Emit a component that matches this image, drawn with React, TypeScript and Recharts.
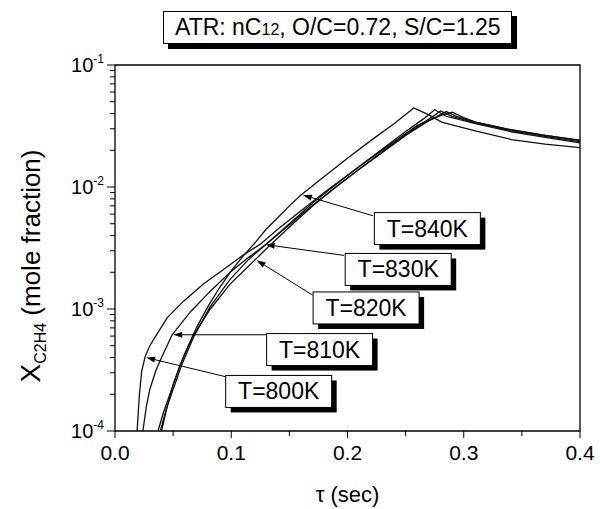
import React from "react";
import {
  LineChart,
  Line,
  XAxis,
  YAxis,
  ReferenceArea,
  ReferenceLine,
  ReferenceDot,
} from "recharts";

const FONT = "'Liberation Sans', Arial, sans-serif";

// residence time (s) and C2H4 mole fraction, one pair per temperature
const TAU_800 = [0.019, 0.021, 0.023, 0.026, 0.03, 0.035, 0.045, 0.059, 0.076, 0.093, 0.111, 0.125, 0.14, 0.16, 0.18, 0.2, 0.22, 0.24, 0.26, 0.28, 0.29, 0.3, 0.31, 0.34, 0.37, 0.4];
const X_800 = [1e-4, 2e-4, 3.1e-4, 4.1e-4, 5e-4, 6e-4, 8.5e-4, 1.16e-3, 1.6e-3, 2.1e-3, 2.8e-3, 3.4e-3, 4.5e-3, 6.4e-3, 9.0e-3, 1.25e-2, 1.72e-2, 2.35e-2, 3.2e-2, 3.85e-2, 4.1e-2, 3.7e-2, 3.4e-2, 2.95e-2, 2.65e-2, 2.42e-2];

const TAU_810 = [0.024, 0.027, 0.03, 0.035, 0.039, 0.049, 0.065, 0.082, 0.099, 0.115, 0.13, 0.15, 0.17, 0.19, 0.21, 0.23, 0.25, 0.27, 0.285, 0.295, 0.31, 0.34, 0.37, 0.4];
const X_810 = [1e-4, 1.6e-4, 2.2e-4, 3.1e-4, 3.8e-4, 6.1e-4, 9.5e-4, 1.4e-3, 2.0e-3, 2.65e-3, 3.4e-3, 4.9e-3, 7.1e-3, 1.0e-2, 1.4e-2, 1.92e-2, 2.65e-2, 3.5e-2, 4.15e-2, 3.75e-2, 3.4e-2, 2.95e-2, 2.65e-2, 2.4e-2];

const TAU_820 = [0.037, 0.042, 0.048, 0.056, 0.067, 0.082, 0.099, 0.115, 0.13, 0.15, 0.17, 0.19, 0.21, 0.23, 0.25, 0.27, 0.28, 0.29, 0.31, 0.34, 0.37, 0.4];
const X_820 = [1e-4, 1.45e-4, 2.1e-4, 3.5e-4, 6e-4, 1e-3, 1.6e-3, 2.25e-3, 3.1e-3, 4.7e-3, 7e-3, 1e-2, 1.4e-2, 1.95e-2, 2.7e-2, 3.6e-2, 4.2e-2, 3.8e-2, 3.35e-2, 2.9e-2, 2.6e-2, 2.35e-2];

const TAU_830 = [0.039, 0.044, 0.05, 0.058, 0.068, 0.082, 0.099, 0.115, 0.13, 0.15, 0.17, 0.19, 0.21, 0.23, 0.25, 0.265, 0.275, 0.285, 0.31, 0.34, 0.37, 0.4];
const X_830 = [1e-4, 1.5e-4, 2.2e-4, 3.6e-4, 6e-4, 1.05e-3, 1.75e-3, 2.55e-3, 3.4e-3, 5.0e-3, 7.4e-3, 1.05e-2, 1.47e-2, 2.05e-2, 2.85e-2, 3.6e-2, 4.3e-2, 3.8e-2, 3.3e-2, 2.85e-2, 2.55e-2, 2.3e-2];

const TAU_840 = [0.04, 0.045, 0.05, 0.06, 0.07, 0.08, 0.09, 0.1, 0.11, 0.12, 0.13, 0.14, 0.15, 0.16, 0.18, 0.2, 0.22, 0.24, 0.257, 0.27, 0.281, 0.309, 0.341, 0.37, 0.4];
const X_840 = [1e-4, 1.6e-4, 2.4e-4, 4.3e-4, 7e-4, 1.05e-3, 1.5e-3, 2.05e-3, 2.7e-3, 3.45e-3, 4.5e-3, 5.6e-3, 7e-3, 8.6e-3, 1.22e-2, 1.72e-2, 2.4e-2, 3.3e-2, 4.45e-2, 3.9e-2, 3.4e-2, 2.9e-2, 2.45e-2, 2.25e-2, 2.1e-2];

// labels, box centre and arrow (from box corner to curve) in data units
const LABELS = ["T=800K", "T=810K", "T=820K", "T=830K", "T=840K"];
const LABEL_TAU = [0.1408, 0.176, 0.216, 0.2436, 0.2687];
const LABEL_X = [2.11e-4, 4.65e-4, 1.02e-3, 2.11e-3, 4.56e-3];
const ARROW_FROM_TAU = [0.0976, 0.134, 0.17, 0.197, 0.222];
const ARROW_FROM_X = [2.75e-4, 6.15e-4, 1.3e-3, 2.75e-3, 5.81e-3];
const ARROW_TO_TAU = [0.0268, 0.0501, 0.1218, 0.1296, 0.1616];
const ARROW_TO_X = [4.0e-4, 6.15e-4, 2.51e-3, 3.37e-3, 8.6e-3];

const X_TICKS = [0, 0.05, 0.1, 0.15, 0.2, 0.25, 0.3, 0.35, 0.4];
const Y_MAJOR = [1e-4, 1e-3, 1e-2, 1e-1];
const Y_MINOR_MULT = [2, 3, 4, 5, 6, 7, 8, 9];

const SERIES = [
  {name: "800K", tau: TAU_800, x: X_800},
  {name: "810K", tau: TAU_810, x: X_810},
  {name: "820K", tau: TAU_820, x: X_820},
  {name: "830K", tau: TAU_830, x: X_830},
  {name: "840K", tau: TAU_840, x: X_840},
].map((s) => ({
  name: s.name,
  data: s.tau.map((t, i) => ({tau: t, x: s.x[i]})),
}));

const Y_TICKS = [
  ...Y_MAJOR,
  ...Y_MAJOR.slice(0, 3).flatMap((d) => Y_MINOR_MULT.map((m) => m * d)),
].sort((a, b) => a - b);

const isDecade = (v: number) =>
  Math.abs(Math.log10(v) - Math.round(Math.log10(v))) < 1e-6;
const isTenth = (v: number) => Math.abs(v * 10 - Math.round(v * 10)) < 1e-6;

function YTick({x, y, payload}: any) {
  const v = payload.value;
  const major = isDecade(v);
  return (
    <g>
      <line x1={x - (major ? 8 : 5)} x2={x} y1={y} y2={y} stroke="#000" />
      {major && (
        <text x={x - 11} y={y + 7} textAnchor="end" fontSize={20} fontFamily={FONT} fill="#000">
          10
          <tspan dy={-9} fontSize={12}>
            {String(Math.round(Math.log10(v)))}
          </tspan>
        </text>
      )}
    </g>
  );
}

function XTick({x, y, payload}: any) {
  const v = payload.value;
  const major = isTenth(v);
  return (
    <g>
      <line x1={x} x2={x} y1={y} y2={y + (major ? 7 : 5)} stroke="#000" />
      {major && (
        <text x={x} y={y + 29} textAnchor="middle" fontSize={21} fontFamily={FONT} fill="#000">
          {v.toFixed(1)}
        </text>
      )}
    </g>
  );
}

function TopTick({x, y, payload}: any) {
  const major = isTenth(payload.value);
  return <line x1={x} x2={x} y1={y} y2={y + (major ? 7 : 5)} stroke="#000" />;
}

function YTitle({viewBox}: any) {
  const cx = viewBox.x + 26;
  const cy = viewBox.y + viewBox.height / 2 + 18;
  return (
    <text
      x={cx}
      y={cy + 9}
      transform={`rotate(-90, ${cx}, ${cy})`}
      textAnchor="middle"
      fontFamily={FONT}
      fontSize={28}
      fill="#000">
      X
      <tspan dy={6} fontSize={16}>
        C2H4
      </tspan>
      <tspan dy={-6} fontSize={26}>
        {" (mole fraction)"}
      </tspan>
    </text>
  );
}

function XTitle({viewBox}: any) {
  return (
    <text
      x={viewBox.x + viewBox.width / 2}
      y={viewBox.y + 71}
      textAnchor="middle"
      fontFamily={FONT}
      fontSize={22}
      fill="#000">
      τ (sec)
    </text>
  );
}

function LabelBox({cx, cy, text}: {cx: number; cy: number; text: string}) {
  const w = 106;
  const h = 32;
  return (
    <g>
      <rect x={cx - w / 2 + 5} y={cy - h / 2 + 5} width={w} height={h} fill="#000" />
      <rect x={cx - w / 2} y={cy - h / 2} width={w} height={h} fill="#fff" stroke="#000" />
      <text x={cx} y={cy + 8} textAnchor="middle" fontFamily={FONT} fontSize={23} fill="#000">
        {text}
      </text>
    </g>
  );
}

function Arrow({x1, y1, x2, y2}: any) {
  const a = Math.atan2(y2 - y1, x2 - x1);
  const len = 9;
  const half = 3;
  const bx = x2 - len * Math.cos(a);
  const by = y2 - len * Math.sin(a);
  const px = -Math.sin(a) * half;
  const py = Math.cos(a) * half;
  return (
    <g>
      <line x1={x1} y1={y1} x2={bx} y2={by} stroke="#000" />
      <polygon
        points={`${x2},${y2} ${bx + px},${by + py} ${bx - px},${by - py}`}
        fill="#000"
      />
    </g>
  );
}

export default function App() {
  return (
    <div
      style={{
        position: "absolute",
        left: 0,
        top: 0,
        width: 600,
        height: 509,
        background: "#fff",
      }}>
      <LineChart width={600} height={509} margin={{top: 65, right: 20, bottom: 0, left: 5}}>
        <XAxis
          type="number"
          dataKey="tau"
          domain={[0, 0.4]}
          ticks={X_TICKS}
          interval={0}
          allowDataOverflow
          axisLine={false}
          tickLine={false}
          tickSize={0}
          tickMargin={0}
          height={78}
          tick={<XTick />}
          label={{content: (p: any) => <XTitle viewBox={p.viewBox} />}}
        />
        <XAxis
          xAxisId="top"
          orientation="top"
          type="number"
          dataKey="tau"
          domain={[0, 0.4]}
          ticks={X_TICKS}
          interval={0}
          allowDataOverflow
          axisLine={false}
          tickLine={false}
          tickSize={0}
          tickMargin={0}
          height={0}
          tick={<TopTick />}
        />
        <YAxis
          type="number"
          scale="log"
          domain={[1e-4, 1e-1]}
          ticks={Y_TICKS}
          interval={0}
          allowDataOverflow
          axisLine={false}
          tickLine={false}
          tickSize={0}
          tickMargin={0}
          width={110}
          tick={<YTick />}
          label={{content: (p: any) => <YTitle viewBox={p.viewBox} />}}
        />
        <ReferenceArea
          x1={0}
          x2={0.4}
          y1={1e-4}
          y2={1e-1}
          fill="none"
          stroke="#000"
          strokeWidth={1.3}
          ifOverflow="visible"
        />
        {SERIES.map((s) => (
          <Line
            key={s.name}
            data={s.data}
            dataKey="x"
            type="linear"
            stroke="#111"
            strokeWidth={1.3}
            dot={false}
            isAnimationActive={false}
          />
        ))}
        {LABELS.map((t, i) => (
          <ReferenceLine
            key={"a" + t}
            segment={[
              {x: ARROW_FROM_TAU[i], y: ARROW_FROM_X[i]},
              {x: ARROW_TO_TAU[i], y: ARROW_TO_X[i]},
            ]}
            ifOverflow="visible"
            shape={(p: any) => <Arrow {...p} />}
          />
        ))}
        {LABELS.map((t, i) => (
          <ReferenceDot
            key={"l" + t}
            x={LABEL_TAU[i]}
            y={LABEL_X[i]}
            r={0}
            ifOverflow="visible"
            shape={(p: any) => <LabelBox cx={p.cx} cy={p.cy} text={t} />}
          />
        ))}
      </LineChart>
      <div
        style={{
          position: "absolute",
          left: 163,
          top: 11,
          height: 31,
          lineHeight: "31px",
          padding: "0 11px",
          border: "1px solid #000",
          background: "#fff",
          boxShadow: "5px 5px 0 #000",
          fontFamily: FONT,
          fontSize: 23,
          whiteSpace: "nowrap",
        }}>
        ATR: nC<span style={{fontSize: 16}}>12</span>, O/C=0.72, S/C=1.25
      </div>
    </div>
  );
}
